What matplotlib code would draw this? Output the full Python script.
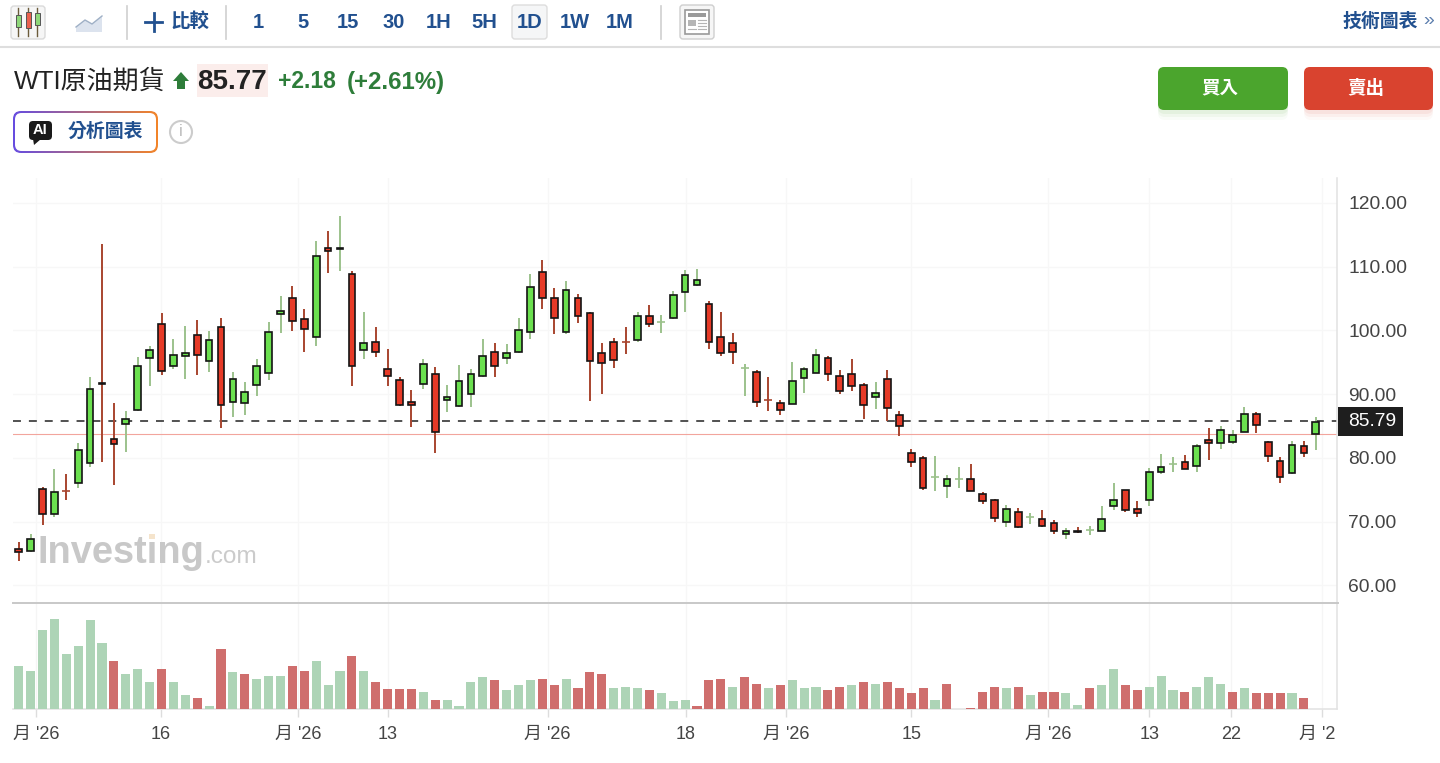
import numpy as np
import matplotlib
matplotlib.use('Agg')
import matplotlib.pyplot as plt
from matplotlib.patches import Rectangle, FancyBboxPatch, Circle, Polygon

plt.rcParams['font.family'] = ['Liberation Sans', 'Noto Sans CJK TC', 'DejaVu Sans']
plt.rcParams['text.kerning_factor'] = 6

W, H = 1440, 763

opens = [65.78, 65.41, 75.14, 71.27, 74.88, 76.08, 79.17, 91.77, 82.98, 85.28,
         87.53, 95.69, 101.02, 94.38, 95.95, 99.29, 95.16, 100.55, 88.84, 88.57,
         91.4, 93.39, 102.54, 105.1, 101.8, 98.98, 112.99, 112.72, 108.91, 96.95,
         98.25, 93.96, 92.19, 88.84, 91.61, 93.18, 89.1, 88.11, 90.1, 92.87,
         96.68, 95.69, 96.63, 99.72, 109.18, 105.1, 99.72, 105.1, 102.8, 96.47,
         98.25, 98.25, 98.51, 102.33, 101.3, 102.02, 106.1, 107.14, 104.11, 99.03,
         98.04, 94.03, 93.44, 89.16, 88.63, 88.52, 92.6, 93.39, 95.74, 92.92,
         93.18, 91.4, 89.57, 92.39, 86.8, 80.73, 79.95, 76.95, 75.56, 76.69,
         76.65, 74.35, 73.36, 69.96, 71.53, 70.73, 70.42, 69.85, 68.02, 68.54,
         68.62, 68.54, 72.41, 74.97, 71.94, 73.4, 77.74, 79.03, 79.31, 78.68,
         82.87, 82.29, 82.55, 84.07, 86.89, 82.55, 79.57, 77.69, 81.82, 83.81]
highs = [66.77, 68.03, 75.4, 78.22, 77.49, 82.3, 92.76, 113.57, 88.68, 87.42,
         95.79, 97.57, 102.69, 98.61, 100.65, 101.65, 99.87, 101.91, 93.44, 91.97,
         95.53, 101.39, 105.41, 106.93, 103.42, 114.09, 115.61, 117.96, 109.28, 102.91,
         100.61, 97.05, 92.76, 90.72, 95.53, 94.28, 91.51, 94.54, 94.02, 98.62,
         98.1, 97.89, 101.91, 108.81, 111.06, 106.72, 107.77, 105.68, 102.85, 98.1,
         98.88, 100.61, 102.91, 103.95, 102.38, 106.2, 109.49, 109.6, 104.68, 102.9,
         99.61, 94.75, 93.81, 92.76, 89.16, 95.06, 94.22, 97.1, 96.06, 93.75,
         95.53, 91.71, 91.98, 93.75, 87.37, 81.36, 80.26, 80.31, 77.28, 78.54,
         79.06, 74.67, 73.52, 72.63, 72.11, 71.43, 71.78, 70.21, 68.96, 69.17,
         69.32, 72.46, 76.07, 74.97, 73.19, 78.37, 80.57, 80.15, 80.41, 82.13,
         84.7, 84.96, 84.43, 88.04, 87.26, 82.6, 80.1, 82.6, 82.66, 86.47]
lows = [63.84, 65.2, 69.44, 70.69, 73.47, 75.29, 78.54, 79.32, 75.76, 80.89,
        87.4, 91.29, 93.02, 94.01, 92.34, 93.07, 93.49, 84.65, 86.48, 86.69,
        89.78, 92.23, 99.66, 99.92, 96.63, 97.62, 109.07, 109.33, 91.29, 95.59,
        95.85, 91.3, 88.21, 84.92, 90.78, 80.84, 87.22, 88.05, 87.95, 92.66,
        92.76, 94.8, 96.42, 98.62, 103.43, 99.4, 99.4, 101.18, 89.0, 89.99,
        94.07, 96.37, 98.2, 100.61, 99.66, 101.76, 102.96, 107.04, 97.1, 96.06,
        94.8, 89.78, 88.0, 87.43, 86.69, 88.45, 90.25, 93.28, 92.03, 89.99,
        90.51, 86.17, 87.69, 85.86, 83.4, 78.54, 75.03, 74.77, 73.73, 75.3,
        74.77, 72.73, 69.91, 69.18, 68.97, 69.65, 69.17, 68.02, 67.23, 68.3,
        67.96, 68.5, 71.83, 71.57, 70.79, 72.51, 77.43, 77.85, 78.2, 77.85,
        79.68, 81.45, 82.24, 84.05, 83.96, 79.42, 76.12, 77.5, 80.2, 81.19]
closes = [65.2, 67.24, 71.27, 74.61, 74.84, 81.27, 90.87, 91.6, 82.25, 86.07,
          94.48, 96.99, 93.65, 96.21, 96.52, 96.16, 98.51, 88.31, 92.39, 90.4,
          94.43, 99.76, 103.06, 101.54, 100.23, 111.74, 112.42, 112.89, 94.43, 97.99,
          96.68, 92.87, 88.32, 88.32, 94.7, 84.03, 89.62, 92.13, 93.18, 95.95,
          94.38, 96.53, 100.03, 106.88, 105.05, 102.02, 106.36, 102.28, 95.17, 94.91,
          95.43, 98.21, 102.33, 101.02, 101.34, 105.62, 108.71, 107.93, 98.2, 96.42,
          96.68, 94.06, 88.79, 89.12, 87.48, 92.13, 93.96, 96.21, 93.13, 90.56,
          91.35, 88.31, 90.14, 87.79, 84.97, 79.43, 75.35, 76.99, 76.65, 76.72,
          74.88, 73.31, 70.54, 72.06, 69.18, 70.76, 69.32, 68.54, 68.59, 68.33,
          68.66, 70.42, 73.45, 71.89, 71.31, 77.79, 78.53, 79.06, 78.21, 81.82,
          82.29, 84.38, 83.6, 86.89, 85.11, 80.25, 76.96, 82.08, 80.77, 85.64]
volumes = [130, 115, 237, 270, 164, 188, 266, 198, 144, 105,
           120, 81, 120, 81, 42, 33, 8, 179, 110, 105,
           90, 100, 100, 130, 115, 144, 71, 115, 159, 115,
           81, 61, 61, 61, 52, 27, 27, 8, 81, 95,
           86, 57, 71, 86, 91, 71, 90, 62, 110, 105,
           62, 66, 62, 57, 47, 23, 27, 8, 86, 91,
           66, 96, 76, 62, 71, 86, 62, 66, 57, 66,
           71, 81, 76, 81, 62, 47, 62, 27, 76, 0,
           4, 52, 66, 62, 66, 42, 52, 52, 47, 12,
           62, 71, 120, 71, 57, 66, 100, 57, 52, 66,
           95, 76, 52, 62, 47, 47, 47, 47, 33, 0]
volume_sides = ('ggggggggrg' 'ggrggrgrgr' 'gggrrgggrg' 'rrrrgrgggg' 'rgggrrgrrr'
                'gggrgggrrr' 'grrgrgggrr' 'grgrrrrgrr' 'rrrgrgrrgg' 'rggrrgggrg'
                'ggrgrrrgrg')

price_ticks = [60, 70, 80, 90, 100, 110, 120]
time_ticks = [1.48, 11.93, 23.5, 31.0, 44.45, 56.07, 64.5, 75.0, 86.5, 95.0, 101.9, 109.55]
time_labels = ["月 '26", '16', "月 '26", '13', "月 '26", '18', "月 '26", '15', "月 '26", '13', '22', "月 '26"]
last_price = 85.79
prev_close = 83.7

periods = ['1', '5', '15', '30', '1H', '5H', '1D', '1W', '1M']
period_x = [258, 303, 348, 394, 439, 484, 530, 575, 620]

BLUE = '#21508F'
GREEN_BODY, RED_BODY = '#6BE04F', '#E63A27'
GREEN_WICK, RED_WICK = '#9CC28C', '#A8452F'


def px_axes(fig, x0, y0, x1, y1, **kw):
    return fig.add_axes([x0 / W, 1 - y1 / H, (x1 - x0) / W, (y1 - y0) / H], **kw)


fig = plt.figure(figsize=(W / 100, H / 100), dpi=100, facecolor='white')
ax = px_axes(fig, 13, 178, 1337, 603)
ax_vol = px_axes(fig, 13, 604, 1337, 709)

x = np.arange(len(closes))
o, h, l, c = map(np.array, (opens, highs, lows, closes))
up = c >= o
doji = np.abs(c - o) < 0.08

ax.vlines(x[up], l[up], h[up], color=GREEN_WICK, lw=1.4, zorder=3)
ax.vlines(x[~up], l[~up], h[~up], color=RED_WICK, lw=1.4, zorder=3)
ax.hlines(c[doji & up], x[doji & up] - 0.33, x[doji & up] + 0.33, color=GREEN_WICK, lw=1.2, zorder=3)
ax.hlines(c[doji & ~up], x[doji & ~up] - 0.33, x[doji & ~up] + 0.33, color=RED_WICK, lw=1.2, zorder=3)
body = ~doji
ax.bar(x[body], np.abs(c - o)[body], bottom=np.minimum(o, c)[body], width=0.56,
       color=[GREEN_BODY if u else RED_BODY for u in up[body]],
       edgecolor='#141414', linewidth=1.2, zorder=4)

ax.axhline(last_price, color='#222222', lw=1.1, dashes=(5.2, 5.2), zorder=2)
ax.axhline(prev_close, color='#F2A59D', lw=0.8, zorder=2)

ax.set_xlim(-0.479, 110.78)
ax.set_ylim(57.25, 123.92)
ax.set_xticks(time_ticks)
ax.set_yticks(price_ticks, [f'{p:.2f}' for p in price_ticks])
ax.yaxis.tick_right()
ax.tick_params(axis='y', length=0, pad=8, labelsize=13.9, labelcolor='#444444')
ax.tick_params(axis='x', length=0, labelbottom=False)
ax.grid(True, color='#F7F7F7', lw=0.9)
ax.set_axisbelow(True)
for name in ('top', 'left', 'bottom'):
    ax.spines[name].set_visible(False)
ax.spines['right'].set_color('#E2E2E2')
ax.spines['right'].set_linewidth(1.1)

vol_colors = ['#ADD4B6' if s == 'g' else '#CF6E6D' for s in volume_sides]
ax_vol.bar(x, volumes, width=0.76, color=vol_colors, zorder=3)
ax_vol.set_xlim(-0.479, 110.78)
ax_vol.set_ylim(0, 315)
ax_vol.set_yticks([])
ax_vol.set_xticks(time_ticks, time_labels)
ax_vol.tick_params(axis='x', length=5.5, width=1, color='#DDDDDD', pad=6.5, labelsize=13, labelcolor='#444444')
ax_vol.grid(True, axis='x', color='#F5F5F5', lw=0.9)
ax_vol.set_axisbelow(True)
for name in ('top', 'left'):
    ax_vol.spines[name].set_visible(False)
ax_vol.spines['right'].set_color('#E2E2E2')
ax_vol.spines['right'].set_linewidth(1.1)
ax_vol.spines['bottom'].set_color('#E2E2E2')
ax_vol.spines['bottom'].set_linewidth(1.1)

# last label runs off the plot, original cuts it at the frame
clip = matplotlib.transforms.Bbox.from_extents(0, 0, 1335.5, H)
ax_vol.get_xticklabels()[-1].set_clip_box(clip)
ax_vol.get_xticklabels()[-1].set_clip_on(True)

# page chrome in pixel coords
ui = fig.add_axes([0, 0, 1, 1], facecolor='none', zorder=5)
ui.set_xlim(0, W)
ui.set_ylim(H, 0)
ui.axis('off')


def box(x0, y0, x1, y1, fc, ec='none', r=3, lw=1.0, alpha=None, z=2):
    p = FancyBboxPatch((x0 + r, y0 + r), x1 - x0 - 2 * r, y1 - y0 - 2 * r,
                       boxstyle=f'round,pad={r},rounding_size={r}', fc=fc, ec=ec, lw=lw, alpha=alpha, zorder=z)
    ui.add_patch(p)
    return p


# toolbar
ui.plot([0, W], [47, 47], color='#DEDEDE', lw=1.5)
for sx in (127, 226, 661):
    ui.plot([sx, sx], [6, 39], color='#CFCFCF', lw=1.2)
box(11, 6, 45, 39, '#F6F6F6', '#DADADA')
for ix, top, bot, fc in ((18, 15, 27, '#8FD77A'), (28, 12, 28, '#E9604E'), (37, 13, 25, '#8FD77A')):
    ui.plot([ix, ix], [8, 36], color='#6B5B3A', lw=1, zorder=3)
    ui.add_patch(Rectangle((ix - 2.5, top), 5, bot - top, fc=fc, ec='#555555', lw=0.7, zorder=4))
ui.add_patch(Polygon([(76, 32), (76, 27), (85, 20), (92, 24), (102, 16), (102, 32)], fc='#DCE3EE', ec='none'))
ui.plot([76, 85, 92, 102], [27, 20, 24, 16], color='#9FB0C6', lw=1)
ui.plot([145, 162], [22, 22], color=BLUE, lw=2)
ui.plot([153.5, 153.5], [13, 31], color=BLUE, lw=2)
ui.text(190, 22, '比較', color=BLUE, fontsize=14, fontweight='bold', ha='center', va='center')
box(512, 5, 547, 39, '#F5F6F7', '#DDDDDD')
for lab, px in zip(periods, period_x):
    ui.text(px, 22, lab, color=BLUE, fontsize=14.5, fontweight='bold', ha='center', va='center', zorder=3)
box(680, 5, 714, 39, '#F6F6F6', '#CFCFCF')
ui.add_patch(Rectangle((685, 10), 24, 24, fc='white', ec='#9A9A9A', lw=1.2, zorder=3))
ui.add_patch(Rectangle((688, 13), 18, 4, fc='#9A9A9A', zorder=4))
ui.add_patch(Rectangle((688, 20), 8, 6, fc='#B5B5B5', zorder=4))
for ly in (20, 23, 26, 29):
    ui.plot([698, 706], [ly, ly], color='#B5B5B5', lw=0.8, zorder=4)
ui.plot([688, 696], [29, 29], color='#B5B5B5', lw=0.8, zorder=4)
ui.text(1380, 22, '技術圖表', color=BLUE, fontsize=13.6, fontweight='bold', ha='center', va='center')
ui.text(1429, 21, '»', color='#5C7EAE', fontsize=14, ha='center', va='center')

# quote line
ui.text(14, 82, 'WTI原油期貨', color='#222222', fontsize=18.7, ha='left', va='center')
ui.add_patch(Polygon([(181, 72), (189, 81), (185, 81), (185, 89), (177, 89), (177, 81), (173, 81)], fc='#2E7D3A'))
ui.add_patch(Rectangle((197, 64), 71, 33, fc='#FBEDEB'))
ui.text(197.5, 82, '85.77', color='#222222', fontsize=20, fontweight='bold', ha='left', va='center', zorder=3)
ui.text(278, 82, '+2.18', color='#2E7D3A', fontsize=16.5, fontweight='bold', ha='left', va='center')
ui.text(347, 82, '(+2.61%)', color='#2E7D3A', fontsize=17.3, fontweight='bold', ha='left', va='center')

# AI button, border goes purple to orange
outer = box(13, 111, 158, 153, 'white', 'none', r=8, z=1)
grad = np.linspace(0, 1, 256)[None, :, None]
rgb = (1 - grad) * np.array([0.40, 0.30, 0.88]) + grad * np.array([0.95, 0.52, 0.16])
im = ui.imshow(rgb, extent=(13, 158, 153, 111), aspect='auto', zorder=1.5)
im.set_clip_path(outer)
ui.set_xlim(0, W)
ui.set_ylim(H, 0)
box(15, 113, 156, 151, 'white', 'none', r=6.5, z=1.8)
box(29, 121, 52, 140, '#1A1A1A', 'none', r=4)
ui.add_patch(Polygon([(33, 139), (41, 139), (34, 145)], fc='#1A1A1A', zorder=2))
ui.text(40.5, 130.5, 'AI', color='white', fontsize=10.5, fontweight='bold', ha='center', va='center', zorder=3)
ui.text(105.5, 132, '分析圖表', color=BLUE, fontsize=13.6, fontweight='bold', ha='center', va='center', zorder=3)
ui.add_patch(Circle((181, 132), 11, fc='white', ec='#CCCCCC', lw=1.5))
ui.text(181, 132, 'i', color='#BBBBBB', fontsize=12, ha='center', va='center')

# buy and sell
for dy, a in ((10, 0.03), (7, 0.05), (4, 0.07)):
    box(1158, 67 + dy, 1288, 110 + dy, '#4BA52D', alpha=a, r=7)
    box(1304, 67 + dy, 1433, 110 + dy, '#D9432F', alpha=a, r=7)
box(1158, 67, 1288, 110, '#4BA52D', r=6)
box(1304, 67, 1433, 110, '#D9432F', r=6)
ui.text(1220, 89, '買入', color='white', fontsize=13.3, fontweight='bold', ha='center', va='center', zorder=3)
ui.text(1366, 89, '賣出', color='white', fontsize=13.3, fontweight='bold', ha='center', va='center', zorder=3)

# watermark
ui.text(38, 563, 'Investing', color='#C8C8C8', fontsize=27.4, fontweight='bold', ha='left', va='baseline', zorder=0.5)
ui.text(205, 563, '.com', color='#CBCBCB', fontsize=17.6, ha='left', va='baseline', zorder=0.5)
ui.add_patch(Rectangle((149, 534), 6, 5, fc='#F5E4CC', zorder=0.6))

# separator and price tag
ui.plot([13, 1338], [603, 603], color='#C8C8C8', lw=1.4)
ui.add_patch(Rectangle((1338, 407), 65, 28.5, fc='#1E1E1E', zorder=3))
ui.text(1348, 422, f'{last_price:.2f}', color='white', fontsize=13.9, ha='left', va='center', zorder=4)

fig.savefig('out.png', dpi=100)
